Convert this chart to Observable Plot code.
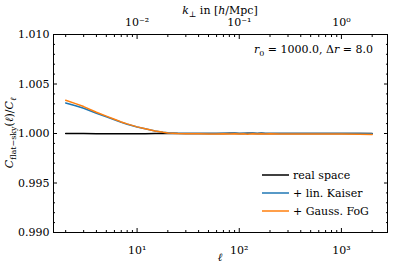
<!DOCTYPE html>
<html><head><meta charset="utf-8">
<script src="https://cdn.jsdelivr.net/npm/d3@7"></script>
<script src="https://cdn.jsdelivr.net/npm/@observablehq/plot@0.6"></script>
<style>body{margin:0;background:#fff} svg{display:block}</style>
</head><body><div id="chart"></div>
<script>
const ell = [2,2.5,3,4,5,6,7,8,10,12,15,18,20,25,30,40,50,60,70,80,90,100,110,120,135,150,165,180,200,250,300,400,500,700,1000,1500,2000];
const realSpace = [1.00000,0.99999,0.99999,0.99998,0.99997,0.99997,0.99997,0.99997,0.99997,0.99998,0.99999,0.99999,1.00000,1.00000,1.00000,1.00000,1.00000,1.00000,1.00001,1.00002,1.00003,1.00001,0.99999,1.00002,1.00003,0.99999,1.00002,1.00000,1.00001,1.00000,1.00001,1.00000,1.00000,1.00000,1.00000,1.00000,1.00000];
const linKaiser = [1.00309,1.00281,1.00255,1.00205,1.00169,1.00139,1.00113,1.00094,1.00065,1.00047,1.00026,1.00013,1.00007,1.00002,1.00001,1.00001,1.00001,1.00000,1.00002,1.00001,1.00003,1.00000,1.00002,1.00000,1.00003,1.00000,1.00002,1.00000,1.00001,1.00000,1.00000,1.00000,1.00000,1.00000,0.99999,0.99999,0.99998];
const gaussFoG = [1.00336,1.00302,1.00272,1.00215,1.00176,1.00144,1.00117,1.00097,1.00067,1.00048,1.00026,1.00012,1.00006,1.00000,0.99998,0.99997,0.99996,0.99995,0.99997,0.99994,0.99998,0.99994,0.99997,0.99993,0.99998,0.99994,0.99997,0.99995,0.99997,0.99996,0.99996,0.99996,0.99995,0.99995,0.99994,0.99993,0.99991];
const seriesNames = ["real space", "+ lin. Kaiser", "+ Gauss. FoG"];
const seriesColors = ["#000000", "#1f77b4", "#ff7f0e"];
const yTicks = [0.990, 0.995, 1.000, 1.005, 1.010];
const yMinorTicks = [0.991,0.992,0.993,0.994,0.996,0.997,0.998,0.999,1.001,1.002,1.003,1.004,1.006,1.007,1.008,1.009];
const ellTicks = [10, 100, 1000];
const ellTickLabels = ["10¹", "10²", "10³"];
const kTickLabels = ["10⁻²", "10⁻¹", "10⁰"];
const ellMinorTicks = [2,3,4,5,6,7,8,9,20,30,40,50,60,70,80,90,200,300,400,500,600,700,800,900,2000];

const rows = [];
[realSpace, linKaiser, gaussFoG].forEach((vals, s) =>
  vals.forEach((v, i) => rows.push({ell: ell[i], ratio: v, series: seriesNames[s]})));

const blank = () => "";
const plot = Plot.plot({
  width: 407, height: 267,
  marginLeft: 53, marginRight: 20, marginTop: 34, marginBottom: 35,
  style: {fontFamily: "DejaVu Serif", fontSize: "11px", color: "#000", background: "#fff"},
  x: {type: "log", domain: [1.52, 2825]},
  y: {domain: [0.990, 1.010]},
  color: {domain: seriesNames, range: seriesColors},
  marks: [
    Plot.line(rows, {x: "ell", y: "ratio", z: "series", stroke: "series", strokeWidth: 1.5}),
    Plot.axisY(yTicks, {anchor: "left", tickSize: -4, tickPadding: 8, tickFormat: d3.format(".3f"), label: null}),
    Plot.axisY(yMinorTicks, {anchor: "left", tickSize: -2, tickFormat: blank, label: null}),
    Plot.axisY(yTicks, {anchor: "right", tickSize: -4, tickFormat: blank, label: null}),
    Plot.axisY(yMinorTicks, {anchor: "right", tickSize: -2, tickFormat: blank, label: null}),
    Plot.axisX(ellTicks, {anchor: "bottom", tickSize: -4, tickPadding: 18, tickFormat: d => ellTickLabels[ellTicks.indexOf(d)], label: null}),
    Plot.axisX(ellMinorTicks, {anchor: "bottom", tickSize: -2, tickFormat: blank, label: null}),
    Plot.axisX(ellTicks, {anchor: "top", tickSize: -4, tickPadding: 13, tickFormat: d => kTickLabels[ellTicks.indexOf(d)], label: null}),
    Plot.axisX(ellMinorTicks, {anchor: "top", tickSize: -2, tickFormat: blank, label: null}),
    Plot.frame({stroke: "#000", strokeWidth: 1})
  ]
});
document.getElementById("chart").appendChild(plot);

const svg = d3.select(plot);
function rich(x, y, parts, anchor, transform) {
  const t = svg.append("text")
    .attr("font-family", "DejaVu Serif").attr("font-size", 11).attr("fill", "#000")
    .attr("text-anchor", anchor);
  if (transform) t.attr("transform", transform); else t.attr("x", x).attr("y", y);
  let off = 0;
  parts.forEach(p => {
    const target = p.sub ? 3 : 0;
    const s = t.append("tspan").text(p.t).attr("dy", target - off);
    off = target;
    if (p.i) s.attr("font-style", "italic");
    if (p.sub) s.attr("font-size", 8);
  });
  return t;
}
// y label
rich(0, 0, [{t: "C", i: 1}, {t: "flat−sky", sub: 1}, {t: "("}, {t: "ℓ", i: 1}, {t: ")/"}, {t: "C", i: 1}, {t: "ℓ", i: 1, sub: 1}], "middle", "translate(13,133) rotate(-90)");
// x label
rich(220, 261, [{t: "ℓ", i: 1}], "middle");
// top label
rich(220, 14, [{t: "k", i: 1}, {t: "⊥", sub: 1}, {t: " in ["}, {t: "h", i: 1}, {t: "/Mpc]"}], "middle");
// annotation
rich(373, 53, [{t: "r", i: 1}, {t: "0", sub: 1}, {t: " = 1000.0, Δ"}, {t: "r", i: 1}, {t: " = 8.0"}], "end");
// legend
const lg = svg.append("g");
seriesNames.forEach((name, i) => {
  const y = 175 + i * 18;
  lg.append("line").attr("x1", 262).attr("x2", 289).attr("y1", y).attr("y2", y)
    .attr("stroke", seriesColors[i]).attr("stroke-width", 1.5);
  lg.append("text").attr("x", 293).attr("y", y + 4).text(name)
    .attr("text-anchor", "start")
    .attr("font-family", "DejaVu Serif").attr("font-size", 11).attr("fill", "#000");
});
</script>
</body></html>
